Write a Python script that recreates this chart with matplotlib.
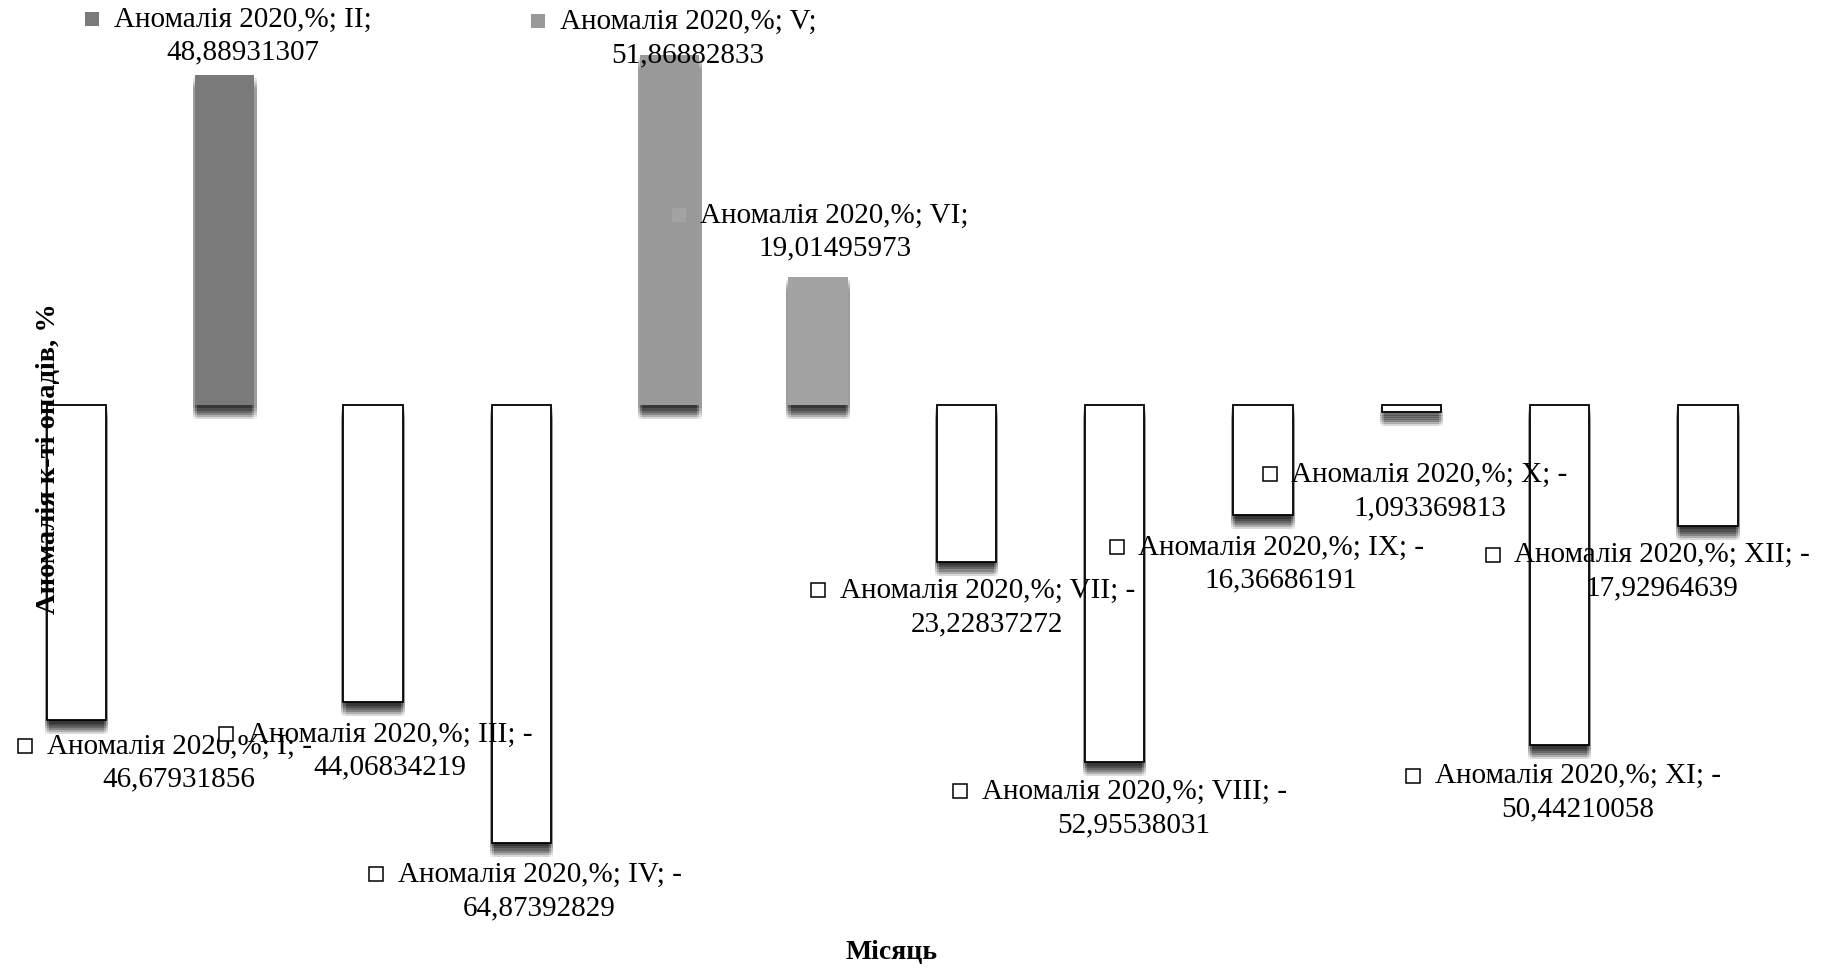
import matplotlib
matplotlib.use('Agg')
import matplotlib.pyplot as plt
import matplotlib.patheffects as pe
import numpy as np

months = ['I', 'II', 'III', 'IV', 'V', 'VI', 'VII', 'VIII', 'IX', 'X', 'XI', 'XII']
anomaly_2020 = [-46.67931856, 48.88931307, -44.06834219, -64.87392829, 51.86882833, 19.01495973,
                -23.22837272, -52.95538031, -16.36686191, -1.093369813, -50.44210058, -17.92964639]
series_name = 'Аномалія 2020,%'
x_title = 'Місяць'
y_title = 'Аномалія к-ті опадів, %'

# grey shades for the months above the norm
positive_colors = {'II': '#7a7a7a', 'V': '#999999', 'VI': '#a3a3a3'}

# where each data label sits: offset of the first line centre from the bar end, in points
label_offsets = [(74, -19), (13, 40), (12, -23), (13, -23), (13, 24), (12, 44),
                 (15, -21), (14, -21), (13, -23), (13, -45), (13, -22), (-33, -21)]

FONT = 'Liberation Serif'
LABEL_SIZE = 21
LINE_STEP = 24  # points between the two label lines


def fmt_value(v):
    # excel-like general format with a decimal comma
    return f'{abs(v):.10g}'.replace('.', ',')


fig = plt.figure(figsize=(18.32, 9.75), dpi=100)
ax = fig.add_axes([0.00128, 0.1, 0.9715, 0.9])
ax.set_xlim(-0.5, 11.5)
ax.set_ylim(-70, 60)
ax.axis('off')

x = np.arange(len(months))

# soft drop shadow under every bar, denser close to the bar
shadow = []
for dy, a in ((-2.5, 0.09), (-4, 0.09), (-5.5, 0.08), (-7, 0.08), (-8.5, 0.07), (-10, 0.05)):
    for dx in (-1.5, 0, 1.5):
        shadow.append(pe.SimplePatchShadow(offset=(dx, dy), shadow_rgbFace='k', alpha=a))
shadow.append(pe.Normal())

for xi, m, v in zip(x, months, anomaly_2020):
    if v >= 0:
        face, edge, lw = positive_colors.get(m, '#888888'), 'none', 0
    else:
        face, edge, lw = 'white', 'black', 1.3
    bar = ax.bar(xi, v, width=0.4, color=face, edgecolor=edge, linewidth=lw, zorder=2)
    for p in bar.patches:
        p.set_path_effects(shadow)
        p.set_clip_on(False)

# data labels, two lines each, legend key in front of the first line
first_lines = []
for xi, m, v, (dx, dy) in zip(x, months, anomaly_2020, label_offsets):
    line1 = f'{series_name}; {m};' + (' -' if v < 0 else '')
    t1 = ax.annotate(line1, xy=(xi, v), xytext=(dx, dy), textcoords='offset points',
                     ha='center', va='center', fontsize=LABEL_SIZE, family=FONT, zorder=5)
    ax.annotate(fmt_value(v), xy=(xi, v), xytext=(dx, dy - LINE_STEP), textcoords='offset points',
                ha='center', va='center', fontsize=LABEL_SIZE, family=FONT, zorder=5)
    first_lines.append((t1, m, v))

fig.canvas.draw()
renderer = fig.canvas.get_renderer()
inv = ax.transData.inverted()
for t1, m, v in first_lines:
    bb = t1.get_window_extent(renderer)
    kx, ky = inv.transform((bb.x0 - 21.5, bb.y0 + 0.52 * bb.height))
    if v >= 0:
        ax.plot(kx, ky, marker='s', ms=10.5, mfc=positive_colors.get(m, '#888888'), mew=0,
                zorder=5, clip_on=False)
    else:
        ax.plot(kx, ky, marker='s', ms=10.5, mfc='white', mec='black', mew=1.1,
                zorder=5, clip_on=False)

fig.text(0.4864, 0.0226, x_title, ha='center', va='center', fontsize=20,
         fontweight='bold', family=FONT)
fig.text(0.0267, 0.530, y_title, ha='center', va='center', rotation=90, fontsize=20.5,
         fontweight='bold', family=FONT)

fig.savefig('out.png', dpi=100)
